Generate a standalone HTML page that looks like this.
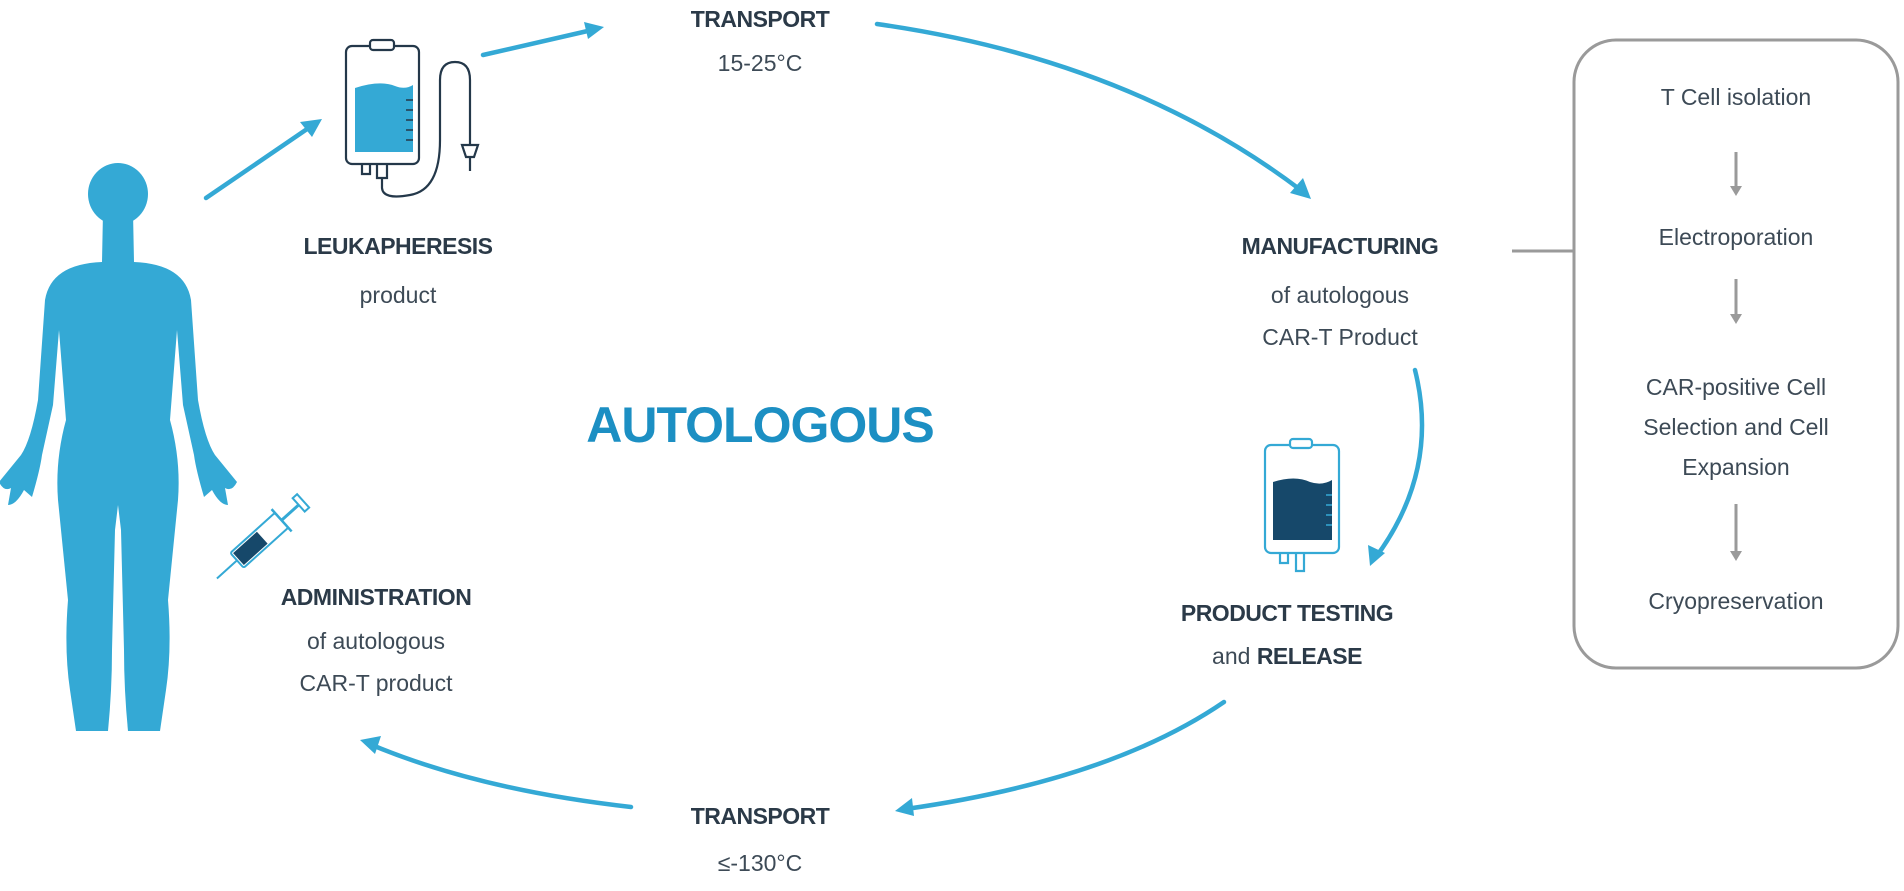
<!DOCTYPE html>
<html><head><meta charset="utf-8"><style>
html,body{margin:0;padding:0;background:#fff;}
body{width:1904px;height:891px;position:relative;overflow:hidden;font-family:"Liberation Sans",sans-serif;color:#2b3a48;}
.t{position:absolute;text-align:center;white-space:nowrap;transform:translateX(-50%);}
.b{font-weight:bold;font-size:23px;letter-spacing:-0.5px;}
.n{font-size:23px;color:#3d4a56;}
.bx{font-size:23px;color:#3d4a56;}
</style></head><body>
<svg width="1904" height="891" style="position:absolute;left:0;top:0">
<g fill="none" stroke="#34a9d5" stroke-width="4.5" stroke-linecap="round">
<path d="M206 198 L310 127"/>
<path d="M483 55 L592 30"/>
<path d="M877 24 Q1130 60 1302 191"/>
<path d="M1415 370 Q1440 470 1376 557"/>
<path d="M1224 702 Q1110 780 906 809"/>
<path d="M631 807 Q480 790 372 745"/>
</g>
<g fill="#34a9d5">
<polygon points="322,119 300,122 312,137"/>
<polygon points="604,27 584,22 588,39"/>
<polygon points="1311,199 1290,193 1303,178"/>
<polygon points="1370,566 1368,545 1385,553"/>
<polygon points="895,811 912,798 914,816"/>
<polygon points="360,740 381,736 375,754"/>
</g>
<!-- person -->
<ellipse cx="118" cy="194" rx="30" ry="31" fill="#34a9d5"/>
<path fill="#34a9d5" d="M103 212 L133 212 L134 262 Q185 264 191 300 L198 400 Q205 440 215 455 L237 482 Q232 492 225 488 L228 505 Q220 505 212 490 L204 497 Q196 470 194 455 L183 405 L177 330 L170 420 Q181 460 178 500 L168 600 Q172 650 166 690 L160 731 L128 731 Q124 690 124 650 L121 530 L118 505 L115 530 L112 650 Q112 690 108 731 L76 731 L70 690 Q64 650 68 600 L58 500 Q55 460 66 420 L59 330 L53 405 L42 455 Q40 470 32 497 L24 490 Q16 505 8 505 L11 488 Q4 492 -1 482 L21 455 Q31 440 38 400 L45 300 Q51 264 102 262 Z"/>
<!-- bag 1 -->
<g stroke="#24384a" stroke-width="2.2" fill="none">
<rect x="346" y="46" width="73" height="118" rx="6"/>
<rect x="370" y="40" width="24" height="10" rx="3" fill="#fff"/>
<path d="M362 164 v10 h8 v-10 M377 164 v14 h10 v-14 M382 178 v10 Q383 200 410 195 Q440 190 440 140 L440 80 Q440 62 455 62 Q470 62 470 80 L470 145"/>
<path d="M462 145 h16 l-4 12 h-8 z M470 157 v14"/>
</g>
<path d="M355 88 Q380 80 395 86 Q405 90 413 85 L413 152 L355 152 Z" fill="#34a9d5"/>
<g stroke="#24384a" stroke-width="1.5"><path d="M406 100h7M406 110h7M406 120h7M406 130h7M406 140h7"/></g>
<!-- bag 2 -->
<g stroke="#34a9d5" stroke-width="2.2" fill="none">
<rect x="1265" y="445" width="74" height="108" rx="6"/>
<rect x="1290" y="439" width="22" height="9" rx="3" fill="#fff"/>
<path d="M1280 553 v10 h8 v-10 M1296 553 v18 h8 v-18"/>
</g>
<path d="M1273 482 Q1295 475 1310 482 Q1322 486 1332 480 L1332 540 L1273 540 Z" fill="#16486a"/>
<g stroke="#34a9d5" stroke-width="1.5"><path d="M1326 495h6M1326 505h6M1326 515h6M1326 525h6"/></g>
<!-- syringe -->
<g transform="translate(263,537) rotate(-42)">
<line x1="-62" y1="0" x2="-35" y2="0" stroke="#34a9d5" stroke-width="2"/>
<rect x="-35" y="-10" width="60" height="20" rx="2" fill="none" stroke="#34a9d5" stroke-width="2"/>
<rect x="-33" y="-8" width="32" height="16" fill="#16486a"/>
<line x1="25" y1="0" x2="48" y2="0" stroke="#34a9d5" stroke-width="3"/>
<line x1="25" y1="-15" x2="25" y2="15" stroke="#34a9d5" stroke-width="2.5"/>
<rect x="48" y="-9" width="6" height="18" fill="none" stroke="#34a9d5" stroke-width="2"/>
</g>
<!-- box -->
<rect x="1574" y="40" width="324" height="628" rx="42" fill="none" stroke="#9a9a9a" stroke-width="3"/>
<line x1="1512" y1="251" x2="1574" y2="251" stroke="#9a9a9a" stroke-width="3"/>
<g stroke="#9a9a9a" stroke-width="3" fill="#9a9a9a">
<line x1="1736" y1="152" x2="1736" y2="188"/><polygon points="1730,186 1742,186 1736,196" stroke="none"/>
<line x1="1736" y1="279" x2="1736" y2="316"/><polygon points="1730,314 1742,314 1736,324" stroke="none"/>
<line x1="1736" y1="504" x2="1736" y2="553"/><polygon points="1730,551 1742,551 1736,561" stroke="none"/>
</g>
</svg>
<div class="t b" style="left:760px;top:6px">TRANSPORT</div>
<div class="t n" style="left:760px;top:50px">15-25°C</div>
<div class="t b" style="left:398px;top:233px">LEUKAPHERESIS</div>
<div class="t n" style="left:398px;top:282px">product</div>
<div class="t" style="left:760px;top:396px;font-size:50px;font-weight:bold;color:#1c8fc3;letter-spacing:-1px">AUTOLOGOUS</div>
<div class="t b" style="left:1340px;top:233px">MANUFACTURING</div>
<div class="t n" style="left:1340px;top:274px;line-height:42px">of autologous<br>CAR-T Product</div>
<div class="t b" style="left:1287px;top:600px">PRODUCT TESTING</div>
<div class="t n" style="left:1287px;top:643px">and <b style="color:#2b3a48;letter-spacing:-0.5px">RELEASE</b></div>
<div class="t b" style="left:760px;top:803px">TRANSPORT</div>
<div class="t n" style="left:760px;top:850px">≤-130°C</div>
<div class="t b" style="left:376px;top:584px">ADMINISTRATION</div>
<div class="t n" style="left:376px;top:620px;line-height:42px">of autologous<br>CAR-T product</div>
<div class="t bx" style="left:1736px;top:84px">T Cell isolation</div>
<div class="t bx" style="left:1736px;top:224px">Electroporation</div>
<div class="t bx" style="left:1736px;top:367px;line-height:40px">CAR-positive Cell<br>Selection and Cell<br>Expansion</div>
<div class="t bx" style="left:1736px;top:588px">Cryopreservation</div>
</body></html>
